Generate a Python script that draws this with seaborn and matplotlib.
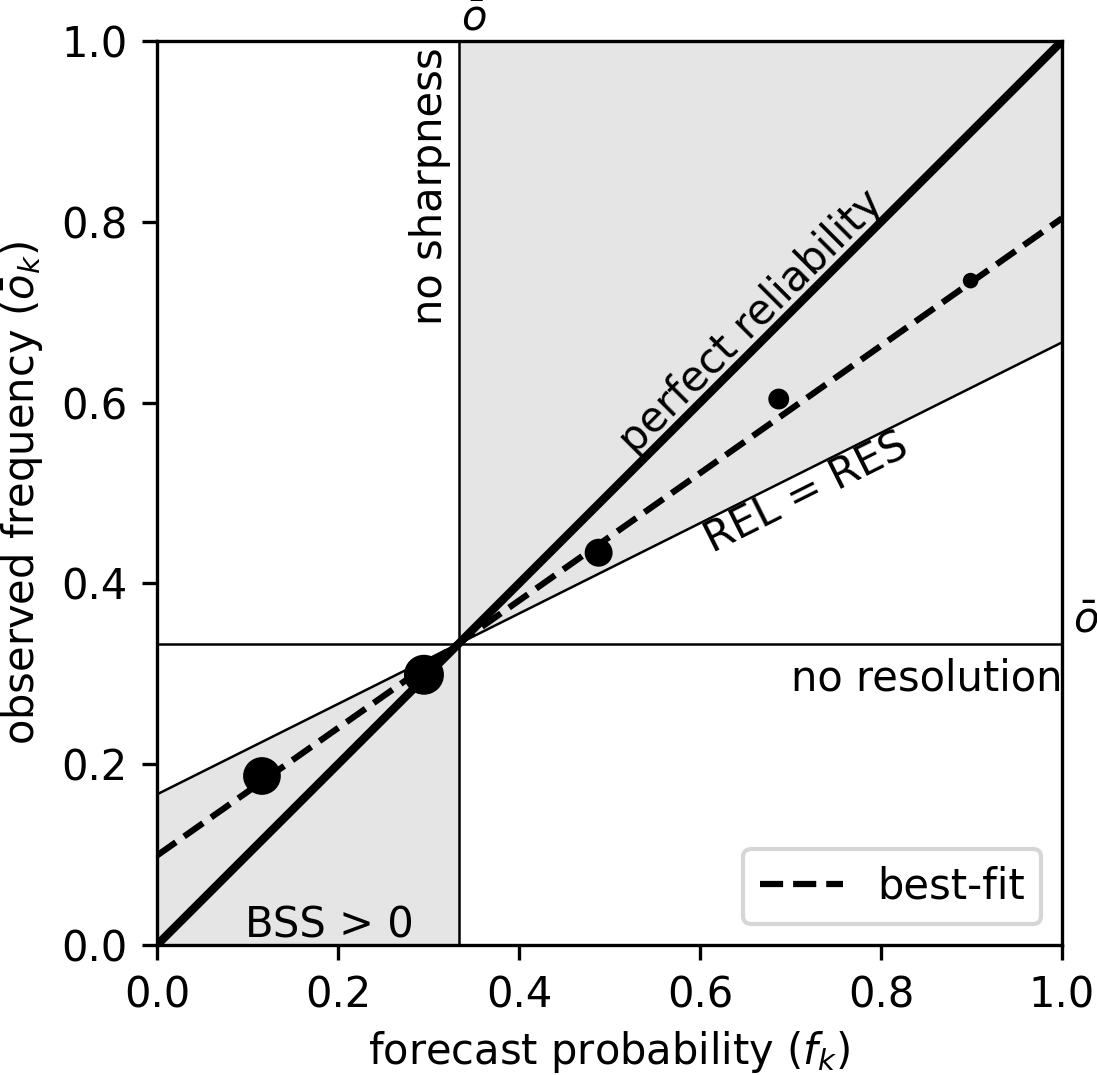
import numpy as np
import pandas as pd
import matplotlib
matplotlib.use("Agg")
import matplotlib.pyplot as plt
import seaborn as sns

forecast_prob = [0.116, 0.295, 0.488, 0.687, 0.899]
observed_freq = [0.187, 0.299, 0.434, 0.604, 0.735]
# 点的大小（与样本数成正比）
marker_area = [82, 92, 45, 25, 14]

# 气候频率 (obar) 与最佳拟合线
obar = 1.0 / 3.0
fit_intercept = 0.099
fit_slope = 0.705

df = pd.DataFrame({"f": forecast_prob, "o": observed_freq, "n": marker_area})

fig = plt.figure(figsize=(1097 / 300, 1075 / 300), dpi=300)
ax = fig.add_axes([0.1431, 0.1209, 0.825, 0.8409])

# BSS > 0 的区域
xx = np.array([0.0, obar, 1.0])
no_skill = (xx + obar) / 2
ax.fill_between(xx[:2], 0, no_skill[:2], color="k", alpha=0.1, lw=0)
ax.fill_between(xx[1:], no_skill[1:], 1, color="k", alpha=0.1, lw=0)

# 无技巧线 / 气候线
ax.plot(xx, no_skill, color="k", lw=0.6)
ax.axhline(obar, color="k", lw=0.6)
ax.axvline(obar, color="k", lw=0.6)

# 完美可靠线
sns.lineplot(x=[0, 1], y=[0, 1], color="k", lw=2, ax=ax)

# 最佳拟合线
fx = np.array([0.0, 1.0])
sns.lineplot(x=fx, y=fit_intercept + fit_slope * fx, color="k", lw=1.5,
             linestyle="--", label="best-fit", ax=ax)

sns.scatterplot(data=df, x="f", y="o", size="n",
                sizes={v: v for v in marker_area}, color="k",
                edgecolor="none", legend=False, zorder=3, ax=ax)

# 文字标注
ax.text(obar - 0.008, 0.993, "no sharpness", rotation=90, ha="right", va="top")
ax.text(obar + 0.003, 1.012, r"$\bar{o}$", ha="left", va="baseline")
ax.text(1.012, obar + 0.012, r"$\bar{o}$", ha="left", va="baseline")
ax.text(1.0, obar - 0.015, "no resolution", ha="right", va="top")
ax.text(0.19, 0.008, "BSS > 0", ha="center", va="baseline")
ax.text(0.673, 0.673, "perfect reliability", rotation=45,
        rotation_mode="anchor", ha="center", va="bottom")
ang = np.degrees(np.arctan(0.5))
ax.text(0.707, (0.707 + obar) / 2, "REL = RES", rotation=ang,
        rotation_mode="anchor", ha="center", va="top")

ax.set_xlim(0, 1)
ax.set_ylim(0, 1)
ax.set_xticks(np.arange(0, 1.01, 0.2))
ax.set_yticks(np.arange(0, 1.01, 0.2))
ax.set_xlabel(r"forecast probability ($f_k$)", labelpad=3)
ax.set_ylabel(r"observed frequency ($\bar{o}_k$)")
ax.legend(loc="lower right")

fig.savefig("out.png", dpi=300)
